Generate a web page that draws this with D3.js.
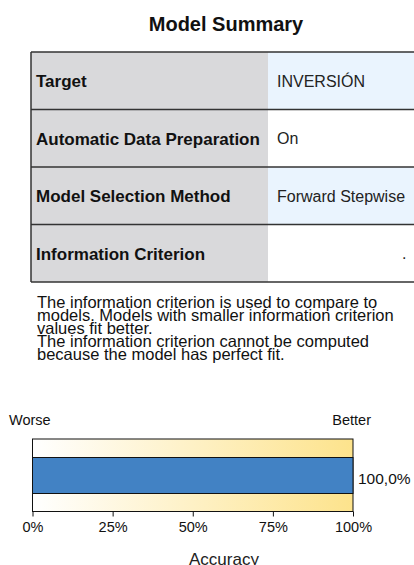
<!DOCTYPE html>
<html>
<head>
  <meta charset="utf-8">
  <title>Model Summary</title>
  <style>
    body { margin: 0; background: white; }
    svg { font-family: "Liberation Sans", Arial, sans-serif; display: block; }
    .row-label { font-weight: bold; font-size: 17px; fill: #111; }
    .row-value { font-size: 16px; fill: #222; }
    .note { font-size: 16.5px; fill: #111; }
    .tick text { font-size: 14.5px; fill: #111; }
  </style>
</head>
<body>
  <div id="chart"></div>

  <script src="https://d3js.org/d3.v7.min.js"></script>
  <script>
    const width = 414, height = 565;

    // table content
    const rowLabels = ["Target", "Automatic Data Preparation", "Model Selection Method", "Information Criterion"];
    const rowValues = ["INVERSIÓN", "On", "Forward Stepwise", "."];
    const noteLines = [
      "The information criterion is used to compare to",
      "models. Models with smaller information criterion",
      "values fit better.",
      "The information criterion cannot be computed",
      "because the model has perfect fit."
    ];

    // accuracy bar
    const accuracyValue = [100.0];
    const accuracyTicks = [0, 25, 50, 75, 100];

    const svg = d3.select("#chart")
      .append("svg")
      .attr("width", width)
      .attr("height", height);

    svg.append("text")
      .attr("x", 226)
      .attr("y", 30.5)
      .attr("text-anchor", "middle")
      .style("font-weight", "bold")
      .style("font-size", "20px")
      .style("fill", "#111")
      .text("Model Summary");

    // table
    const tableLeft = 31, tableRight = 420, splitX = 268;
    const rowY = d3.scaleBand()
      .domain(d3.range(rowLabels.length))
      .range([52, 282]);

    const rows = svg.selectAll(".row")
      .data(rowLabels)
      .enter()
      .append("g")
      .attr("class", "row")
      .attr("transform", (d, i) => "translate(0," + rowY(i) + ")");

    rows.append("rect")
      .attr("x", tableLeft)
      .attr("width", splitX - tableLeft)
      .attr("height", rowY.bandwidth())
      .attr("fill", "#d9d9db");

    rows.append("rect")
      .attr("x", splitX)
      .attr("width", tableRight - splitX)
      .attr("height", rowY.bandwidth())
      .attr("fill", (d, i) => i % 2 === 0 ? "#eaf4fe" : "#ffffff");

    rows.append("text")
      .attr("class", "row-label")
      .attr("x", 36)
      .attr("y", rowY.bandwidth() / 2 + 6.5)
      .text(d => d);

    rows.append("text")
      .attr("class", "row-value")
      .attr("x", (d, i) => i === 3 ? 402 : 277)
      .attr("y", rowY.bandwidth() / 2 + 6)
      .text((d, i) => rowValues[i]);

    // row lines
    svg.selectAll(".hline")
      .data(d3.range(rowLabels.length + 1))
      .enter()
      .append("line")
      .attr("x1", tableLeft)
      .attr("x2", tableRight)
      .attr("y1", i => i < rowLabels.length ? rowY(i) : rowY(i - 1) + rowY.bandwidth())
      .attr("y2", i => i < rowLabels.length ? rowY(i) : rowY(i - 1) + rowY.bandwidth())
      .attr("stroke", "#333")
      .attr("stroke-width", 1.5);

    svg.append("line")
      .attr("x1", tableLeft).attr("x2", tableLeft)
      .attr("y1", 52).attr("y2", 282)
      .attr("stroke", "#333")
      .attr("stroke-width", 1.5);

    // note below the table
    svg.append("text")
      .attr("class", "note")
      .selectAll("tspan")
      .data(noteLines)
      .enter()
      .append("tspan")
      .attr("x", 37)
      .attr("y", (d, i) => 307.5 + i * 13.1)
      .text(d => d);

    // accuracy chart
    const x = d3.scaleLinear().domain([0, 100]).range([32.5, 353]);
    const boxTop = 439, boxBottom = 511.5;

    const defs = svg.append("defs");
    const grad = defs.append("linearGradient")
      .attr("id", "worse-better")
      .attr("x1", "0%").attr("x2", "100%");
    grad.append("stop").attr("offset", "0%").attr("stop-color", "#ffffff");
    grad.append("stop").attr("offset", "100%").attr("stop-color", "#fde38c");

    svg.append("rect")
      .attr("x", x(0))
      .attr("y", boxTop)
      .attr("width", x(100) - x(0))
      .attr("height", boxBottom - boxTop)
      .attr("fill", "url(#worse-better)")
      .attr("stroke", "#111")
      .attr("stroke-width", 1);

    svg.selectAll(".bar")
      .data(accuracyValue)
      .enter()
      .append("rect")
      .attr("class", "bar")
      .attr("x", x(0))
      .attr("y", 457.5)
      .attr("width", d => x(d) - x(0))
      .attr("height", 36)
      .attr("fill", "#4282c4")
      .attr("stroke", "#111")
      .attr("stroke-width", 1);

    svg.selectAll(".bar-label")
      .data(accuracyValue)
      .enter()
      .append("text")
      .attr("x", d => x(d) + 5)
      .attr("y", 484)
      .style("font-size", "15.5px")
      .style("fill", "#111")
      .text(d => d.toFixed(1).replace(".", ",") + "%");

    const xAxis = d3.axisBottom(x)
      .tickValues(accuracyTicks)
      .tickFormat(d => d + "%")
      .tickSize(5)
      .tickSizeOuter(0);

    const axisG = svg.append("g")
      .attr("transform", "translate(0," + boxBottom + ")")
      .call(xAxis);
    axisG.select(".domain").remove();
    axisG.selectAll(".tick line").attr("stroke", "#111");
    axisG.selectAll(".tick text").attr("dy", "0.95em").attr("y", 7);

    svg.append("text")
      .attr("x", 9)
      .attr("y", 425)
      .style("font-size", "14.5px")
      .style("fill", "#111")
      .text("Worse");

    svg.append("text")
      .attr("x", 371)
      .attr("y", 425)
      .attr("text-anchor", "end")
      .style("font-size", "14.5px")
      .style("fill", "#111")
      .text("Better");

    svg.append("text")
      .attr("x", 224)
      .attr("y", 564.5)
      .attr("text-anchor", "middle")
      .style("font-size", "17px")
      .style("fill", "#222")
      .text("Accuracy");
  </script>
</body>
</html>
